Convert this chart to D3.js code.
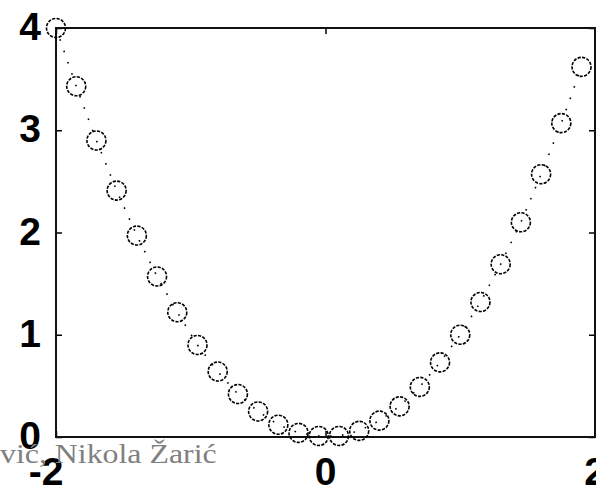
<!DOCTYPE html>
<html>
<head>
<meta charset="utf-8">
<script src="https://cdn.jsdelivr.net/npm/d3@7"></script>
<style>
  html, body { margin: 0; padding: 0; background: #fff; overflow: hidden; }
  svg { display: block; }
</style>
</head>
<body>
<svg id="chart" width="596" height="490"></svg>
<script>
// Sampled points of the parabola
const xValues = [-2, -1.85, -1.7, -1.55, -1.4, -1.25, -1.1, -0.95, -0.8, -0.65, -0.5, -0.35, -0.2, -0.05,
                 0.1, 0.25, 0.4, 0.55, 0.7, 0.85, 1.0, 1.15, 1.3, 1.45, 1.6, 1.75, 1.9];
const yValues = [4.0, 3.43, 2.9, 2.41, 1.97, 1.57, 1.22, 0.9, 0.64, 0.42, 0.25, 0.12, 0.04, 0.01,
                 0.01, 0.06, 0.16, 0.3, 0.49, 0.73, 1.0, 1.32, 1.69, 2.1, 2.57, 3.07, 3.62];

const xTicks = [-2, 0, 2];
const yTicks = [0, 1, 2, 3, 4];
const credit = "vić, Nikola Žarić";

const svg = d3.select("#chart");
const box = { left: 56, right: 595, top: 28, bottom: 437 };

const x = d3.scaleLinear().domain([-2, 2]).range([box.left, box.right]);
const y = d3.scaleLinear().domain([0, 4]).range([box.bottom, box.top]);

const points = xValues.map((v, i) => ({ x: v, y: yValues[i] }));

// Inward tick marks on all four sides
const tickLen = 6;
const gx = svg.append("g");
gx.append("g").attr("transform", `translate(0,${box.bottom})`)
  .call(d3.axisTop(x).tickValues(xTicks).tickSize(tickLen).tickFormat(""))
  .call(g => g.select(".domain").remove());
gx.append("g").attr("transform", `translate(0,${box.top})`)
  .call(d3.axisBottom(x).tickValues(xTicks).tickSize(tickLen).tickFormat(""))
  .call(g => g.select(".domain").remove());
gx.append("g").attr("transform", `translate(${box.left},0)`)
  .call(d3.axisRight(y).tickValues(yTicks).tickSize(tickLen).tickFormat(""))
  .call(g => g.select(".domain").remove());
gx.append("g").attr("transform", `translate(${box.right},0)`)
  .call(d3.axisLeft(y).tickValues(yTicks).tickSize(tickLen).tickFormat(""))
  .call(g => g.select(".domain").remove());
gx.selectAll(".tick line").attr("stroke", "#000").attr("stroke-width", 1.5);

// Frame
svg.append("rect")
  .attr("x", box.left).attr("y", box.top)
  .attr("width", box.right - box.left).attr("height", box.bottom - box.top)
  .attr("fill", "none").attr("stroke", "#111").attr("stroke-width", 2);

// Tick labels
const labelFont = "'Liberation Sans', Arial, Helvetica, sans-serif";
svg.append("g").selectAll("text").data(yTicks).join("text")
  .attr("x", 41)
  .attr("y", d => y(d) + 12)
  .attr("text-anchor", "end")
  .attr("font-family", labelFont).attr("font-weight", "bold").attr("font-size", 39)
  .text(d => d);

svg.append("g").selectAll("text").data(xTicks).join("text")
  .attr("x", d => x(d) + (d < 0 ? -10 : 0))
  .attr("y", 485)
  .attr("text-anchor", "middle")
  .attr("font-family", labelFont).attr("font-weight", "bold").attr("font-size", 39)
  .text(d => d);

// Credit line
svg.append("text")
  .attr("transform", "translate(0,463) scale(1.18,1)")
  .attr("font-family", "'Liberation Serif', 'Times New Roman', serif")
  .attr("font-size", 27)
  .attr("fill", "#808080")
  .text(credit);

// Dotted connecting line
const line = d3.line().x(d => x(d.x)).y(d => y(d.y));
svg.append("path")
  .datum(points)
  .attr("d", line)
  .attr("fill", "none")
  .attr("stroke", "#000")
  .attr("stroke-width", 1.6)
  .attr("stroke-dasharray", "1.6,10.4");

// Open circle markers
svg.append("g").selectAll("circle").data(points).join("circle")
  .attr("cx", d => x(d.x))
  .attr("cy", d => y(d.y))
  .attr("r", 9.5)
  .attr("fill", "none")
  .attr("stroke", "#000")
  .attr("stroke-width", 1.6)
  .attr("stroke-dasharray", "3.2,1.3");
</script>
</body>
</html>
